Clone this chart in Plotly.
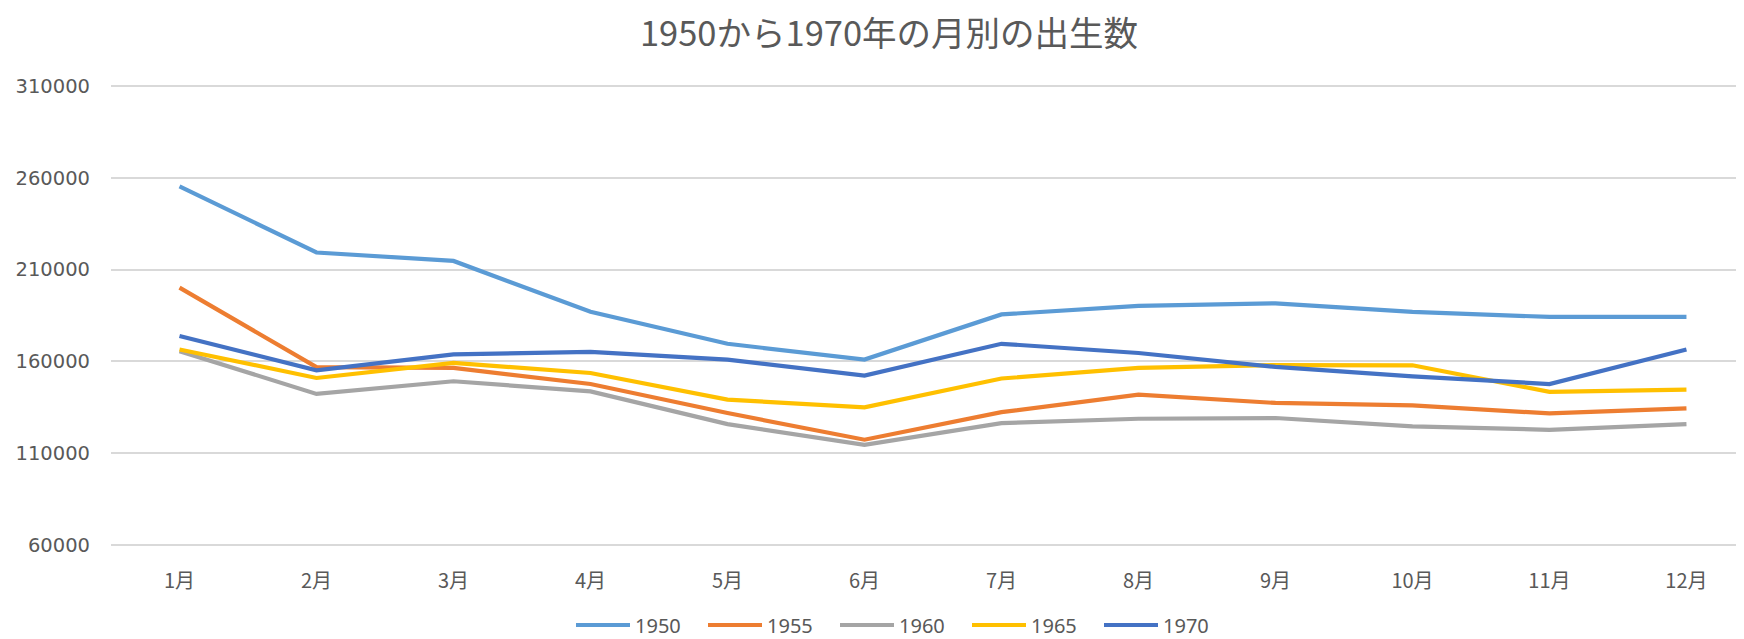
import plotly.graph_objects as go

months = ["1月", "2月", "3月", "4月", "5月", "6月", "7月", "8月", "9月", "10月", "11月", "12月"]

births_1950 = [255300, 219300, 214700, 187000, 169600, 161000, 185600, 190200, 191600, 187000, 184200, 184200]
births_1955 = [200200, 156900, 156500, 147700, 131900, 117400, 132400, 141900, 137400, 136100, 131700, 134500]
births_1960 = [165600, 142300, 149200, 143700, 125900, 114600, 126400, 128800, 129200, 124600, 122800, 125900]
births_1965 = [166500, 151000, 159200, 153700, 139200, 135000, 150700, 156500, 158000, 157900, 143400, 144700]
births_1970 = [173800, 155200, 163800, 165200, 161000, 152300, 169600, 164600, 157000, 151900, 147700, 166500]

series_names = ["1950", "1955", "1960", "1965", "1970"]
series_values = [births_1950, births_1955, births_1960, births_1965, births_1970]
series_colors = ["#5B9BD5", "#ED7D31", "#A5A5A5", "#FFC000", "#4472C4"]

y_ticks = [60000, 110000, 160000, 210000, 260000, 310000]

# page has an 8px body margin; figure sized to fit the 1744x639 viewport
W, H = 1736, 631

fig = go.Figure()
for name, vals, col in zip(series_names, series_values, series_colors):
    fig.add_trace(go.Scatter(
        x=months, y=vals, name=name, mode="lines",
        line=dict(color=col, width=4.2),
    ))

fig.update_layout(
    width=W, height=H,
    paper_bgcolor="white", plot_bgcolor="white",
    margin=dict(l=102.5, r=0, t=75.7, b=92.2, autoexpand=False),
    title=dict(
        text="1950から1970年の月別の出生数",
        font=dict(family="Noto Sans CJK JP", size=34.5, color="#595959"),
        x=881 / W, xref="container", xanchor="center",
        y=1 - 26 / H, yref="container", yanchor="middle",
    ),
    showlegend=True,
    legend=dict(
        orientation="h",
        xref="container", x=893 / W, xanchor="center",
        yref="container", y=1 - 617 / H, yanchor="middle",
        font=dict(family="Noto Sans", size=20, color="#595959"),
        entrywidth=63, entrywidthmode="pixels",
        itemwidth=54,
        bgcolor="rgba(0,0,0,0)",
    ),
    xaxis=dict(
        type="category",
        range=[-0.5, 11.42],
        showgrid=False, showline=False, zeroline=False,
        ticks="", ticklabelstandoff=20,
        tickfont=dict(family="Noto Sans CJK JP", size=20, color="#595959"),
    ),
    yaxis=dict(
        range=[59000, 311000],
        tickvals=y_ticks,
        ticktext=[str(v) for v in y_ticks],
        showgrid=True, gridcolor="#D9D9D9", gridwidth=1.6,
        showline=False, zeroline=False,
        ticks="", ticklabelstandoff=20,
        tickfont=dict(family="DejaVu Sans", size=19.5, color="#595959"),
    ),
)

fig.write_html("out.html")
